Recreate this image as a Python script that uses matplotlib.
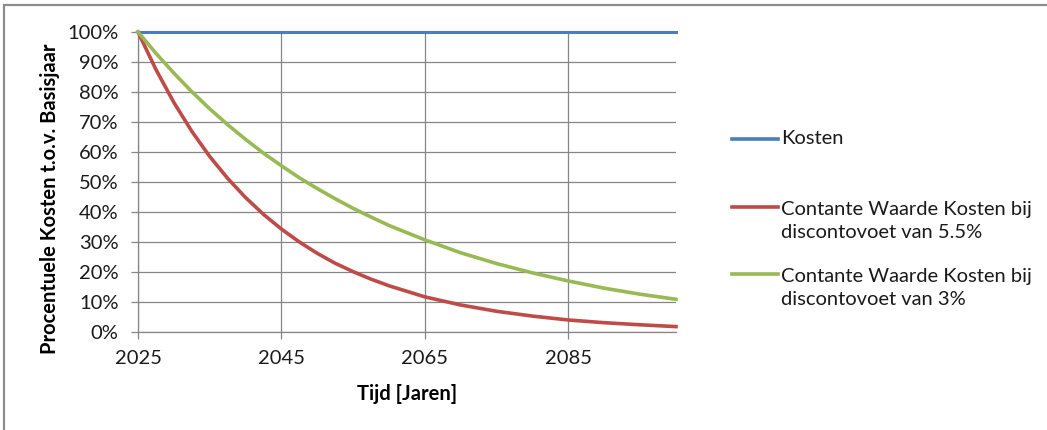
import matplotlib.pyplot as plt
from matplotlib.patches import Rectangle
from matplotlib.lines import Line2D

plt.rcParams['font.family'] = ['Lato', 'DejaVu Sans']

# years on the time axis (denser where the curves bend most)
years = [2025, 2027.5, 2030, 2032.5, 2035, 2037.5, 2040, 2042.5, 2045,
         2047.5, 2050, 2052.5, 2055, 2057.5, 2060, 2065, 2070, 2075,
         2080, 2085, 2090, 2095, 2100]

# cost as percentage of the base year
kosten = [100] * len(years)
cw_55 = [100, 87.5, 76.5, 66.9, 58.5, 51.2, 44.8, 39.2, 34.3,
         30.0, 26.2, 22.9, 20.1, 17.6, 15.4, 11.7, 9.0, 6.9,
         5.3, 4.0, 3.1, 2.4, 1.8]
cw_3 = [100, 92.9, 86.3, 80.1, 74.4, 69.1, 64.2, 59.6, 55.4,
        51.4, 47.8, 44.4, 41.2, 38.3, 35.5, 30.7, 26.4, 22.8,
        19.7, 17.0, 14.6, 12.6, 10.9]

x_ticks = [2025, 2045, 2065, 2085]
y_ticks = list(range(0, 101, 10))

labels = ["Kosten",
          "Contante Waarde Kosten bij\ndiscontovoet van 5.5%",
          "Contante Waarde Kosten bij\ndiscontovoet van 3%"]
colors = ["#4A7EBB", "#BE4B48", "#98B954"]

W, H = 1047, 430
fig = plt.figure(figsize=(W / 100, H / 100), dpi=100)
ax = fig.add_axes([138 / W, 1 - 332 / H, 538 / W, 300 / H])

grid_c = "#868686"
ax.plot(years, kosten, color=colors[0], lw=2.2, zorder=3, clip_on=False)
ax.plot(years, cw_55, color=colors[1], lw=2.6, zorder=3, clip_on=False)
ax.plot(years, cw_3, color=colors[2], lw=2.6, zorder=3, clip_on=False)

ax.set_xlim(2025, 2100)
ax.set_ylim(0, 100)
ax.set_xticks(x_ticks)
ax.set_yticks(y_ticks)
ax.set_yticklabels([f"{v}%" for v in y_ticks])
ax.grid(True, color=grid_c, lw=0.9)
ax.set_axisbelow(True)

for side in ["top", "right"]:
    ax.spines[side].set_visible(False)
for side in ["left", "bottom"]:
    ax.spines[side].set_color(grid_c)
    ax.spines[side].set_linewidth(0.9)
ax.tick_params(axis="both", colors=grid_c, length=5, width=0.9,
               labelsize=14.5, labelcolor="#1a1a1a")
ax.tick_params(axis="x", pad=8)
ax.tick_params(axis="y", pad=9)

ax.set_ylabel("Procentuele Kosten t.o.v. Basisjaar", fontsize=14.5,
              fontweight="bold", va="center")
ax.yaxis.set_label_coords(-0.164, 0.443)
ax.set_xlabel("Tijd [Jaren]", fontsize=14.5, fontweight="bold", va="center")
ax.xaxis.set_label_coords(0.5, -0.207)

# legend: line sample with text to its right, first text line level with the sample
leg_rows = [139, 207, 274]
for lab, col, yp in zip(labels, colors, leg_rows):
    yf = 1 - yp / H
    fig.add_artist(Line2D([732 / W, 778 / W], [yf, yf], color=col, lw=2.6,
                          transform=fig.transFigure))
    n = lab.count("\n")
    yc = 1 - (yp + 14 * n) / H
    fig.text(781 / W, yc, lab, fontsize=14.5, color="#1a1a1a",
             va="center", ha="left", linespacing=1.38)

# outer chart border
fig.patches.append(Rectangle((4 / W, -0.05), 1.1, 1.05 - 5 / H,
                             transform=fig.transFigure, fill=False,
                             edgecolor="#8c8c8c", lw=1.6))

fig.savefig("out.png", dpi=100)
